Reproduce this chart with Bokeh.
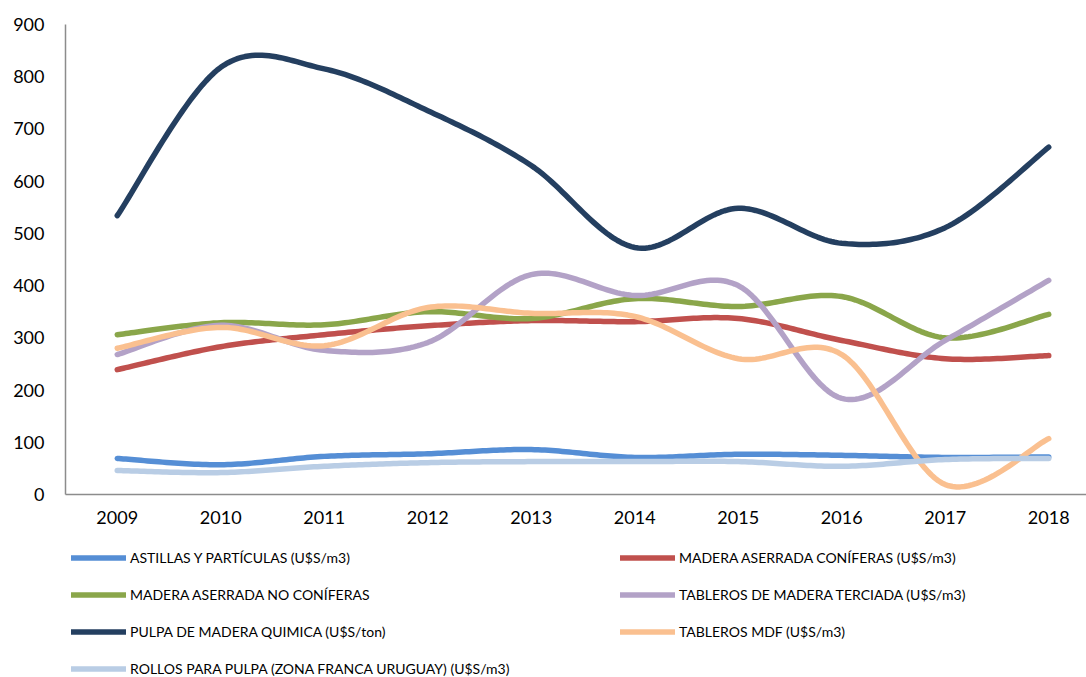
import numpy as np
from bokeh.plotting import figure
from bokeh.layouts import column
from bokeh.models import Range1d, FixedTicker, Legend, LegendItem
from bokeh.embed import file_html
from bokeh.resources import INLINE

years = [2009, 2010, 2011, 2012, 2013, 2014, 2015, 2016, 2017, 2018]

astillas = [69, 57, 73, 78, 86, 71, 77, 75, 71, 72]
coniferas = [239, 283, 306, 323, 333, 331, 337, 295, 260, 266]
no_coniferas = [306, 329, 325, 350, 337, 375, 360, 379, 300, 345]
terciada = [268, 324, 276, 291, 421, 381, 400, 184, 295, 410]
pulpa = [534, 818, 815, 735, 630, 473, 548, 481, 511, 665]
mdf = [280, 320, 285, 358, 347, 341, 260, 268, 19, 107]
rollos = [46, 42, 54, 61, 63, 63, 63, 54, 67, 69]

labels = [
    "ASTILLAS Y PARTÍCULAS (U$S/m3)",
    "MADERA ASERRADA CONÍFERAS (U$S/m3)",
    "MADERA ASERRADA NO CONÍFERAS",
    "TABLEROS DE MADERA TERCIADA (U$S/m3)",
    "PULPA DE MADERA QUIMICA (U$S/ton)",
    "TABLEROS MDF (U$S/m3)",
    "ROLLOS PARA PULPA (ZONA FRANCA URUGUAY) (U$S/m3)",
]
series = [astillas, coniferas, no_coniferas, terciada, pulpa, mdf, rollos]
colors = ["#558ED5", "#C0504D", "#8AA64A", "#B3A2C7", "#243F60", "#FAC090", "#B9CDE5"]

FONT = "Lato"
LW = 5.5


def smooth(xs, ys, n=30):
    xs = np.asarray(xs, float)
    ys = np.asarray(ys, float)
    m = len(xs)
    ox, oy = [], []
    for i in range(m - 1):
        y0 = ys[i - 1] if i > 0 else ys[i]
        y3 = ys[i + 2] if i + 2 < m else ys[i + 1]
        x0 = xs[i - 1] if i > 0 else xs[i]
        x3 = xs[i + 2] if i + 2 < m else xs[i + 1]
        p0 = (xs[i], ys[i])
        p3 = (xs[i + 1], ys[i + 1])
        p1 = (xs[i] + (xs[i + 1] - x0) / 6, ys[i] + (ys[i + 1] - y0) / 6)
        p2 = (xs[i + 1] - (x3 - xs[i]) / 6, ys[i + 1] - (y3 - ys[i]) / 6)
        t = np.linspace(0, 1, n, endpoint=(i == m - 2))
        a = (1 - t) ** 3
        b = 3 * (1 - t) ** 2 * t
        c = 3 * (1 - t) * t ** 2
        d = t ** 3
        ox.extend(a * p0[0] + b * p1[0] + c * p2[0] + d * p3[0])
        oy.extend(a * p0[1] + b * p1[1] + c * p2[1] + d * p3[1])
    return ox, oy


W = 1086
H_MAIN = 534
H_LEG = 677 - H_MAIN

p = figure(width=W, height=H_MAIN, output_backend="svg", toolbar_location=None,
           x_range=Range1d(2008.5, 2018.365), y_range=Range1d(0, 900),
           min_border_left=65, min_border_right=0, min_border_top=24,
           min_border_bottom=H_MAIN - 494)
p.outline_line_color = None
p.xgrid.visible = False
p.ygrid.visible = False

for ax in (p.xaxis[0], p.yaxis[0]):
    ax.axis_line_color = "#8C8C8C"
    ax.axis_line_width = 1.5
    ax.major_tick_line_color = None
    ax.minor_tick_line_color = None
    ax.major_tick_out = 0
    ax.major_tick_in = 0
    ax.major_label_text_font = FONT
    ax.major_label_text_font_size = "18px"
    ax.major_label_text_color = "#000000"

p.xaxis.ticker = FixedTicker(ticks=years)
p.yaxis.ticker = FixedTicker(ticks=list(range(0, 901, 100)))
p.xaxis.major_label_standoff = 16
p.yaxis.major_label_standoff = 21

curves = []
for ys, col in zip(series, colors):
    sx, sy = smooth(years, ys)
    curves.append((sx, sy))
    p.line(sx, sy, line_color=col, line_width=LW, line_cap="round", line_join="round")

# legend panel (same series, outside its view, only used for legend swatches)
lf = figure(width=W, height=H_LEG, output_backend="svg", toolbar_location=None,
            x_range=Range1d(0, 1), y_range=Range1d(0, 1),
            min_border_left=0, min_border_right=0, min_border_top=0, min_border_bottom=0)
lf.axis.visible = False
lf.xgrid.visible = False
lf.ygrid.visible = False
lf.outline_line_color = None

leg_renderers = []
for (sx, sy), col in zip(curves, colors):
    r = lf.line(sx, sy, line_color=col, line_width=LW, line_cap="round")
    leg_renderers.append(r)

left_idx = [0, 2, 4, 6]
right_idx = [1, 3, 5]
GH, SP = 17, 20
FRAME_LEFT = 65


def make_legend(idx, x):
    n = len(idx)
    h = n * GH + (n - 1) * SP
    top = 15
    y = H_LEG - top - h
    items = [LegendItem(label=labels[i], renderers=[leg_renderers[i]]) for i in idx]
    return Legend(items=items, location=(x - FRAME_LEFT, y), orientation="vertical",
                  padding=0, margin=0, spacing=SP, glyph_width=55, glyph_height=GH,
                  label_height=GH, label_standoff=4, border_line_color=None,
                  background_fill_alpha=0, label_text_font=FONT,
                  label_text_font_size="14px", label_text_color="#000000")


lf.add_layout(make_legend(left_idx, 71), "center")
lf.add_layout(make_legend(right_idx, 620), "center")

layout = column(p, lf, spacing=0)
open("out.html", "w").write(file_html(layout, INLINE))
